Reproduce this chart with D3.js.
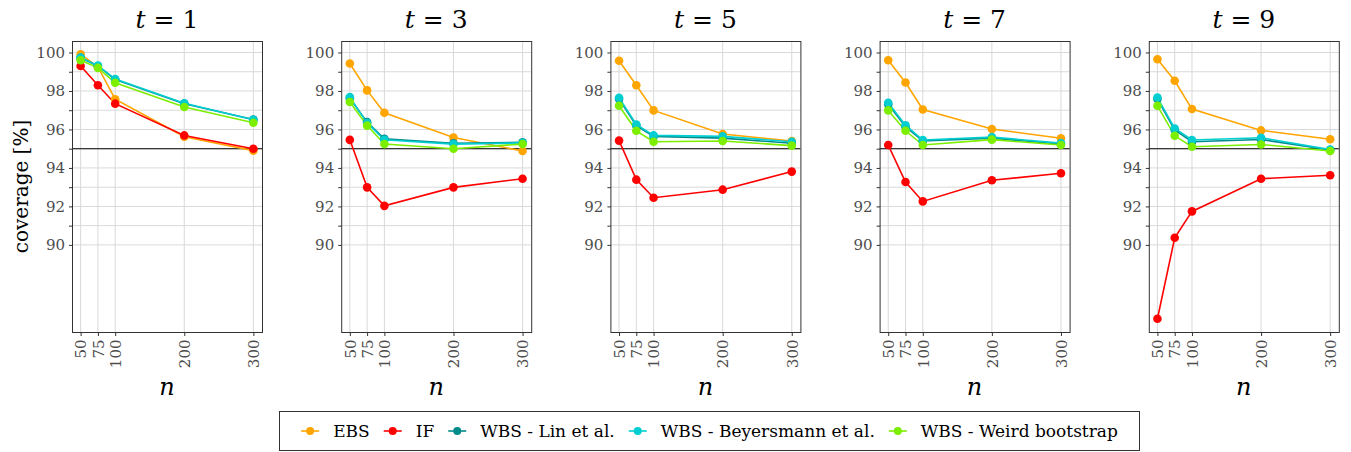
<!DOCTYPE html>
<html>
<head>
<meta charset="utf-8">
<script src="https://cdn.jsdelivr.net/npm/d3@7"></script>
<style>
  html, body { margin: 0; padding: 0; background: #fff; }
  svg { display: block; }
</style>
</head>
<body>
<svg id="chart" width="1351" height="452"></svg>
<script>
// ---------- data ----------
const sampleSizes = [50, 75, 100, 200, 300];
const timePoints = [1, 3, 5, 7, 9];
const methods = ["EBS", "IF", "WBS - Lin et al.", "WBS - Beyersmann et al.", "WBS - Weird bootstrap"];
const methodColors = ["#FFA500", "#FF0000", "#008B8B", "#00CED1", "#7CEE00"];
const yTickValues = [90, 91, 92, 93, 94, 95, 96, 97, 98, 99, 100];
const yTickLabels = [90, 92, 94, 96, 98, 100];
const referenceLine = 95;

// rows: t = 1, 3, 5, 7, 9 ; columns: n = 50, 75, 100, 200, 300
const coverageEBS = [
  [99.91, 99.25, 97.57, 95.62, 94.90],
  [99.43, 98.03, 96.87, 95.58, 94.88],
  [99.57, 98.30, 96.99, 95.76, 95.40],
  [99.60, 98.44, 97.04, 96.02, 95.54],
  [99.65, 98.53, 97.06, 95.95, 95.49]
];
const coverageIF = [
  [99.30, 98.30, 97.34, 95.69, 95.00],
  [95.46, 92.99, 92.03, 92.99, 93.44],
  [95.42, 93.39, 92.45, 92.87, 93.81],
  [95.19, 93.27, 92.26, 93.36, 93.72],
  [86.16, 90.37, 91.74, 93.44, 93.62]
];
const coverageLin = [
  [99.72, 99.30, 98.60, 97.34, 96.52],
  [97.62, 96.38, 95.51, 95.28, 95.33],
  [97.58, 96.20, 95.64, 95.55, 95.28],
  [97.31, 96.14, 95.40, 95.55, 95.24],
  [97.58, 95.98, 95.36, 95.48, 94.93]
];
const coverageBeyersmann = [
  [99.74, 99.32, 98.62, 97.36, 96.50],
  [97.68, 96.33, 95.46, 95.24, 95.30],
  [97.65, 96.26, 95.69, 95.64, 95.36],
  [97.39, 96.22, 95.45, 95.60, 95.29],
  [97.66, 96.05, 95.45, 95.57, 94.95]
];
const coverageWeird = [
  [99.60, 99.20, 98.43, 97.17, 96.35],
  [97.43, 96.20, 95.24, 95.00, 95.24],
  [97.23, 95.93, 95.36, 95.40, 95.16],
  [96.99, 95.93, 95.19, 95.47, 95.19],
  [97.23, 95.67, 95.10, 95.22, 94.88]
];
const allSeries = [coverageEBS, coverageIF, coverageLin, coverageBeyersmann, coverageWeird];

// ---------- layout ----------
const FONT = "'DejaVu Serif', 'Liberation Serif', serif";
const svg = d3.select("#chart").attr("font-family", FONT);
const panelTop = 41, panelBottom = 332, panelWidth = 190;
const panelLefts = timePoints.map((t, i) => 72 + i * 269.2);

// y domain: data extent expanded 5%
const allVals = allSeries.flat(2);
const [ymin, ymax] = d3.extent(allVals);
const ypad = (ymax - ymin) * 0.05;
const y = d3.scaleLinear().domain([ymin - ypad, ymax + ypad]).range([panelBottom, panelTop]);
const xpad = (d3.max(sampleSizes) - d3.min(sampleSizes)) * 0.05;

const gridColor = "#d9d9d9";
const borderColor = "#333333";
const tickTextColor = "#4d4d4d";

timePoints.forEach((t, ti) => {
  const left = panelLefts[ti];
  const x = d3.scaleLinear()
    .domain([d3.min(sampleSizes) - xpad, d3.max(sampleSizes) + xpad])
    .range([left, left + panelWidth]);
  const g = svg.append("g");

  // grid
  g.selectAll(".hg").data(yTickValues).join("line")
    .attr("x1", left).attr("x2", left + panelWidth)
    .attr("y1", d => y(d)).attr("y2", d => y(d))
    .attr("stroke", gridColor).attr("stroke-width", 1);
  g.selectAll(".vg").data(sampleSizes).join("line")
    .attr("x1", d => x(d)).attr("x2", d => x(d))
    .attr("y1", panelTop).attr("y2", panelBottom)
    .attr("stroke", gridColor).attr("stroke-width", 1);

  // reference line
  g.append("line")
    .attr("x1", left).attr("x2", left + panelWidth)
    .attr("y1", y(referenceLine)).attr("y2", y(referenceLine))
    .attr("stroke", "#000").attr("stroke-width", 1.1);

  // lines
  const line = d3.line().x((d, i) => x(sampleSizes[i])).y(d => y(d));
  allSeries.forEach((series, mi) => {
    g.append("path").datum(series[ti])
      .attr("d", line).attr("fill", "none")
      .attr("stroke", methodColors[mi]).attr("stroke-width", 1.6);
  });
  // points
  allSeries.forEach((series, mi) => {
    g.selectAll(null).data(series[ti]).join("circle")
      .attr("cx", (d, i) => x(sampleSizes[i])).attr("cy", d => y(d))
      .attr("r", 4.3).attr("fill", methodColors[mi]);
  });

  // border
  g.append("rect")
    .attr("x", left + 0.5).attr("y", panelTop + 0.5)
    .attr("width", panelWidth).attr("height", panelBottom - panelTop)
    .attr("fill", "none").attr("stroke", borderColor).attr("stroke-width", 1);

  // y axis
  const yAxis = d3.axisLeft(y).tickValues(yTickValues).tickSize(3.5).tickPadding(4)
    .tickFormat(d => yTickLabels.includes(d) ? d : "");
  const ya = g.append("g").attr("transform", `translate(${left + 0.5},0)`).call(yAxis);
  ya.attr("font-family", FONT).attr("font-size", 15);
  ya.select(".domain").remove();
  ya.selectAll(".tick line").attr("stroke", borderColor);
  ya.selectAll(".tick text").attr("fill", tickTextColor);

  // x axis
  const xAxis = d3.axisBottom(x).tickValues(sampleSizes).tickSize(3.5).tickPadding(0);
  const xa = g.append("g").attr("transform", `translate(0,${panelBottom + 0.5})`).call(xAxis);
  xa.attr("font-family", FONT).attr("font-size", 15);
  xa.select(".domain").remove();
  xa.selectAll(".tick line").attr("stroke", borderColor);
  xa.selectAll(".tick text").attr("fill", tickTextColor)
    .attr("text-anchor", "end")
    .attr("transform", "translate(0,7) rotate(-90)")
    .attr("x", 0).attr("y", 0).attr("dy", "0.35em");

  // title
  const title = g.append("text")
    .attr("x", left + panelWidth / 2).attr("y", 28)
    .attr("text-anchor", "middle").attr("font-size", 25).attr("fill", "#000");
  title.append("tspan").attr("font-style", "italic").text("t");
  title.append("tspan").text(" = " + t);

  // x label
  g.append("text").attr("x", left + panelWidth / 2).attr("y", 395)
    .attr("text-anchor", "middle").attr("font-size", 24).attr("font-style", "italic")
    .text("n");
});

// y label
svg.append("text")
  .attr("transform", `translate(28,${(panelTop + panelBottom) / 2}) rotate(-90)`)
  .attr("text-anchor", "middle").attr("font-size", 20).text("coverage [%]");

// ---------- legend ----------
const legendBox = { x: 279.5, y: 411.5, w: 860, h: 39 };
const lg = svg.append("g");
lg.append("rect").attr("x", legendBox.x).attr("y", legendBox.y)
  .attr("width", legendBox.w).attr("height", legendBox.h)
  .attr("fill", "#fff").attr("stroke", borderColor).attr("stroke-width", 1);
const keyW = 18, keyGap = 14, itemGap = 14;
const cy = legendBox.y + legendBox.h / 2;
const items = methods.map((m, i) => {
  const it = lg.append("g");
  it.append("line").attr("x1", 0).attr("x2", keyW).attr("y1", cy).attr("y2", cy)
    .attr("stroke", methodColors[i]).attr("stroke-width", 1.6);
  it.append("circle").attr("cx", keyW / 2).attr("cy", cy).attr("r", 4).attr("fill", methodColors[i]);
  const tx = it.append("text").attr("x", keyW + keyGap).attr("y", cy).attr("dy", "0.35em")
    .attr("font-size", 17).attr("fill", "#000").text(m);
  return { g: it, w: keyW + keyGap + tx.node().getComputedTextLength() };
});
const total = d3.sum(items, d => d.w) + itemGap * (items.length - 1);
let cx = legendBox.x + (legendBox.w - total) / 2;
items.forEach(d => { d.g.attr("transform", `translate(${cx},0)`); cx += d.w + itemGap; });
</script>
</body>
</html>
